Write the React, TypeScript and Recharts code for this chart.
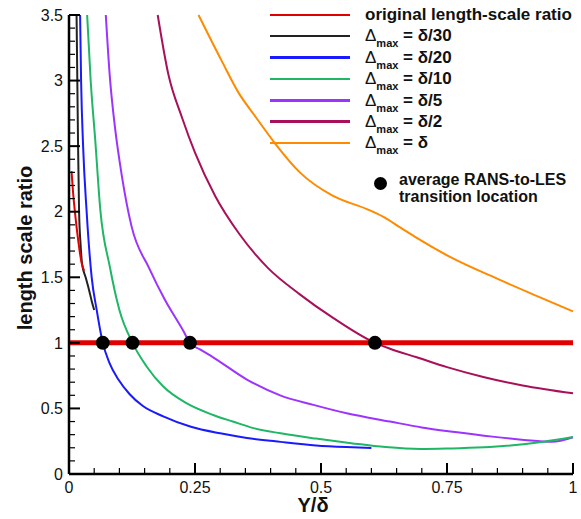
import React from "react"
import { ComposedChart, Line, Scatter, XAxis, YAxis } from "recharts"

// values (x = Y/δ, y = length scale ratio)
const originalNearWall = [
  { x: 0.005, y: 2.31 },
  { x: 0.008, y: 2.15 },
  { x: 0.012, y: 1.99 },
  { x: 0.018, y: 1.79 },
  { x: 0.025, y: 1.61 },
  { x: 0.03, y: 1.55 },
]
const originalRatio = [
  { x: 0, y: 1 },
  { x: 1, y: 1 },
]
const deltaOver30 = [
  { x: 0.015, y: 3.5 },
  { x: 0.0165, y: 3.0 },
  { x: 0.018, y: 2.5 },
  { x: 0.02, y: 2.0 },
  { x: 0.023, y: 1.75 },
  { x: 0.026, y: 1.6 },
  { x: 0.033, y: 1.5 },
  { x: 0.04, y: 1.4 },
  { x: 0.045, y: 1.32 },
  { x: 0.05, y: 1.25 },
]
const deltaOver20 = [
  { x: 0.022, y: 3.5 },
  { x: 0.024, y: 3.0 },
  { x: 0.028, y: 2.5 },
  { x: 0.035, y: 2.0 },
  { x: 0.045, y: 1.5 },
  { x: 0.055, y: 1.25 },
  { x: 0.067, y: 1.0 },
  { x: 0.08, y: 0.85 },
  { x: 0.098, y: 0.72 },
  { x: 0.12, y: 0.61 },
  { x: 0.146, y: 0.52 },
  { x: 0.187, y: 0.44 },
  { x: 0.242, y: 0.36 },
  { x: 0.3, y: 0.31 },
  { x: 0.353, y: 0.275 },
  { x: 0.42, y: 0.245 },
  { x: 0.49, y: 0.218 },
  { x: 0.55, y: 0.205 },
  { x: 0.6, y: 0.198 },
]
const deltaOver10 = [
  { x: 0.036, y: 3.5 },
  { x: 0.043, y: 3.0 },
  { x: 0.052, y: 2.55 },
  { x: 0.062, y: 2.02 },
  { x: 0.081, y: 1.58 },
  { x: 0.1, y: 1.25 },
  { x: 0.126, y: 1.0 },
  { x: 0.154, y: 0.82 },
  { x: 0.187, y: 0.667 },
  { x: 0.233, y: 0.54 },
  { x: 0.286, y: 0.45 },
  { x: 0.325, y: 0.4 },
  { x: 0.366, y: 0.35 },
  { x: 0.42, y: 0.31 },
  { x: 0.49, y: 0.27 },
  { x: 0.56, y: 0.235 },
  { x: 0.628, y: 0.205 },
  { x: 0.697, y: 0.19 },
  { x: 0.76, y: 0.195 },
  { x: 0.835, y: 0.205 },
  { x: 0.938, y: 0.244 },
  { x: 1.0, y: 0.282 },
]
const deltaOver5 = [
  { x: 0.073, y: 3.5 },
  { x: 0.081, y: 3.03 },
  { x: 0.091, y: 2.65 },
  { x: 0.105, y: 2.27 },
  { x: 0.124, y: 1.89 },
  { x: 0.159, y: 1.57 },
  { x: 0.19, y: 1.33 },
  { x: 0.227, y: 1.09 },
  { x: 0.24, y: 1.0 },
  { x: 0.26, y: 0.95 },
  { x: 0.286, y: 0.89 },
  { x: 0.353, y: 0.72 },
  { x: 0.419, y: 0.6 },
  { x: 0.485, y: 0.527 },
  { x: 0.551, y: 0.463 },
  { x: 0.637, y: 0.4 },
  { x: 0.7, y: 0.355 },
  { x: 0.766, y: 0.32 },
  { x: 0.84, y: 0.285 },
  { x: 0.903, y: 0.26 },
  { x: 0.958, y: 0.245 },
  { x: 1.0, y: 0.28 },
]
const deltaOver2 = [
  { x: 0.176, y: 3.5 },
  { x: 0.197, y: 3.05 },
  { x: 0.224, y: 2.72 },
  { x: 0.25, y: 2.45 },
  { x: 0.29, y: 2.12 },
  { x: 0.338, y: 1.83 },
  { x: 0.395, y: 1.57 },
  { x: 0.458, y: 1.37 },
  { x: 0.524, y: 1.19 },
  { x: 0.607, y: 1.0 },
  { x: 0.637, y: 0.955 },
  { x: 0.69, y: 0.89 },
  { x: 0.75, y: 0.815 },
  { x: 0.822, y: 0.74 },
  { x: 0.9, y: 0.675 },
  { x: 1.0, y: 0.615 },
]
const deltaFull = [
  { x: 0.257, y: 3.5 },
  { x: 0.303, y: 3.15 },
  { x: 0.336, y: 2.91 },
  { x: 0.369, y: 2.73 },
  { x: 0.409, y: 2.52 },
  { x: 0.458, y: 2.3 },
  { x: 0.524, y: 2.12 },
  { x: 0.591, y: 2.02 },
  { x: 0.624, y: 1.96 },
  { x: 0.657, y: 1.88 },
  { x: 0.69, y: 1.8 },
  { x: 0.756, y: 1.655 },
  { x: 0.855, y: 1.48 },
  { x: 0.93, y: 1.355 },
  { x: 1.0, y: 1.24 },
]
const transitionPoints = [
  { x: 0.067, y: 1 },
  { x: 0.126, y: 1 },
  { x: 0.24, y: 1 },
  { x: 0.607, y: 1 },
]

const xMajorTicks = [0, 0.25, 0.5, 0.75, 1]
const xMinorTicks = [
  0.05, 0.1, 0.15, 0.2, 0.3, 0.35, 0.4, 0.45, 0.55, 0.6, 0.65, 0.7, 0.8, 0.85, 0.9, 0.95,
]
const yMajorTicks = [0, 0.5, 1, 1.5, 2, 2.5, 3, 3.5]
const yMinorTicks = [
  0.1, 0.2, 0.3, 0.4, 0.6, 0.7, 0.8, 0.9, 1.1, 1.2, 1.3, 1.4, 1.6, 1.7, 1.8, 1.9, 2.1, 2.2, 2.3, 2.4,
  2.6, 2.7, 2.8, 2.9, 3.1, 3.2, 3.3, 3.4,
]

// minor tick marks, placed through the chart scales
const xTickMarks = xMinorTicks.map((v) => ({ x: v, y: 0 }))
const yTickMarks = yMinorTicks.map((v) => ({ x: 0, y: v }))

const RED = "#e00000"
const curves = [
  { key: "full", label: "δ", color: "#ff8a00", data: deltaFull },
  { key: "d2", label: "δ/2", color: "#a8105a", data: deltaOver2 },
  { key: "d5", label: "δ/5", color: "#9d33ff", data: deltaOver5 },
  { key: "d10", label: "δ/10", color: "#1fb765", data: deltaOver10 },
  { key: "d20", label: "δ/20", color: "#1a1aff", data: deltaOver20 },
  { key: "d30", label: "δ/30", color: "#222222", data: deltaOver30 },
]

const FONT = "'Liberation Sans', Arial, sans-serif"

const legendRows = [
  { color: RED, text: "original length-scale ratio", delta: false },
  ...[...curves].reverse().map((c) => ({ color: c.color, text: c.label, delta: true })),
]

const css = `
.recharts-cartesian-axis-tick-value { font-family: ${FONT}; font-size: 16px; fill: #111; }
.recharts-cartesian-axis-line { stroke-width: 2.5px; }
`

export default function App() {
  return (
    <div style={{ position: "absolute", left: 0, top: 0, width: 581, height: 519, background: "#fff" }}>
      <style>{css}</style>
      <ComposedChart width={581} height={519} margin={{ top: 15, right: 8, bottom: 15, left: 9 }}>
        <XAxis
          dataKey="x"
          type="number"
          domain={[0, 1]}
          ticks={xMajorTicks}
          height={30}
          stroke="#000"
          tickSize={-11}
          tickMargin={19}
          tickLine={{ stroke: "#000", strokeWidth: 2 }}
        />
        <YAxis
          dataKey="y"
          type="number"
          domain={[0, 3.5]}
          ticks={yMajorTicks}
          width={60}
          stroke="#000"
          tickSize={-11}
          tickMargin={17}
          tickLine={{ stroke: "#000", strokeWidth: 2 }}
        />
        {curves.map((c) => (
          <Line
            key={c.key}
            data={c.data}
            dataKey="y"
            type="monotone"
            stroke={c.color}
            strokeWidth={2}
            dot={false}
            activeDot={false}
            isAnimationActive={false}
          />
        ))}
        <Line
          data={originalNearWall}
          dataKey="y"
          type="monotone"
          stroke={RED}
          strokeWidth={2}
          dot={false}
          activeDot={false}
          isAnimationActive={false}
        />
        <Line
          data={originalRatio}
          dataKey="y"
          type="linear"
          stroke={RED}
          strokeWidth={5}
          dot={false}
          activeDot={false}
          isAnimationActive={false}
        />
        <Scatter
          data={xTickMarks}
          dataKey="y"
          fill="#000"
          shape={(p: any) => <rect x={p.cx - 0.6} y={p.cy - 6} width={1.2} height={6} fill="#000" />}
          isAnimationActive={false}
        />
        <Scatter
          data={yTickMarks}
          dataKey="y"
          fill="#000"
          shape={(p: any) => <rect x={p.cx} y={p.cy - 0.6} width={6} height={1.2} fill="#000" />}
          isAnimationActive={false}
        />
        <Scatter
          data={transitionPoints}
          dataKey="y"
          fill="#000"
          shape={(p: any) => <circle cx={p.cx} cy={p.cy} r={7} fill="#000" />}
          isAnimationActive={false}
        />
      </ComposedChart>

      {/* axis titles */}
      <div
        style={{
          position: "absolute",
          left: 25,
          top: 248,
          transform: "translate(-50%, -50%) rotate(-90deg)",
          fontFamily: FONT,
          fontWeight: "bold",
          fontSize: 20,
          lineHeight: "20px",
          color: "#111",
          whiteSpace: "nowrap",
        }}
      >
        length scale ratio
      </div>
      <div
        style={{
          position: "absolute",
          left: 313,
          top: 495,
          transform: "translateX(-50%)",
          fontFamily: FONT,
          fontWeight: "bold",
          fontSize: 20,
          lineHeight: "20px",
          color: "#111",
          whiteSpace: "nowrap",
        }}
      >
        Y/δ
      </div>

      {/* legend */}
      <div style={{ position: "absolute", left: 270, top: 4, fontFamily: FONT, fontWeight: "bold", color: "#111" }}>
        {legendRows.map((r, i) => (
          <div key={i} style={{ position: "relative", height: 21.4 }}>
            <div
              style={{ position: "absolute", left: 0, top: 9.5, width: 80, height: 2.5, background: r.color }}
            />
            <div style={{ position: "absolute", left: 95, top: 0, fontSize: 17, lineHeight: "21px", whiteSpace: "nowrap" }}>
              {r.delta ? (
                <>
                  <span style={{ fontWeight: "normal" }}>Δ</span>
                  <span style={{ fontSize: 11, position: "relative", top: 6 }}>max</span> = {r.text}
                </>
              ) : (
                r.text
              )}
            </div>
          </div>
        ))}
      </div>
      <div style={{ position: "absolute", left: 374, top: 177, width: 13, height: 13, borderRadius: "50%", background: "#000" }} />
      <div
        style={{
          position: "absolute",
          left: 399,
          top: 172,
          fontFamily: FONT,
          fontWeight: "bold",
          fontSize: 16,
          lineHeight: "16.5px",
          color: "#111",
          whiteSpace: "nowrap",
        }}
      >
        average RANS-to-LES
        <br />
        transition location
      </div>
    </div>
  )
}
